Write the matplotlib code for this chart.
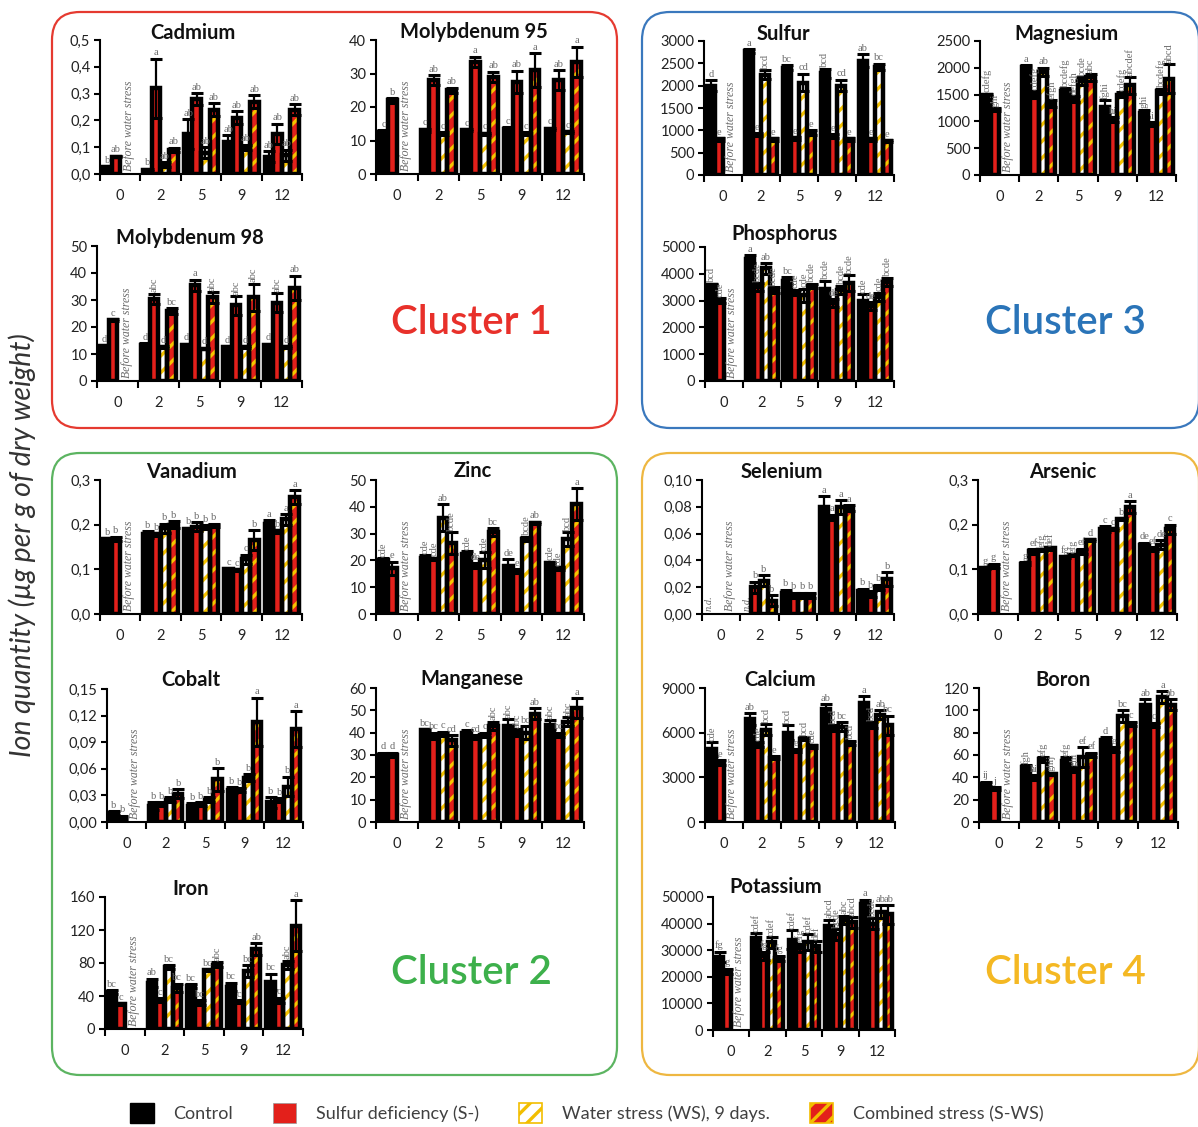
import numpy as np
import matplotlib.pyplot as plt
from matplotlib.patches import FancyBboxPatch, Patch
from matplotlib.ticker import FixedLocator, FuncFormatter, NullFormatter

nan = np.nan

days = ["0", "2", "5", "9", "12"]
treatments = ["Control", "Sulfur deficiency (S-)", "Water stress (WS), 9 days.", "Combined stress (S-WS)"]

# rows: Control, S-, WS, S-WS  /  columns: days 0, 2, 5, 9, 12
cadmium_mean = [[0.025, 0.015, 0.15, 0.12, 0.065], [0.065, 0.32, 0.28, 0.21, 0.15],
                [nan, 0.035, 0.08, 0.10, 0.07], [nan, 0.09, 0.24, 0.27, 0.24]]
cadmium_err = [[0.005, 0.005, 0.055, 0.025, 0.02], [0.003, 0.11, 0.022, 0.025, 0.038],
               [nan, 0.01, 0.02, 0.01, 0.02], [nan, 0.008, 0.025, 0.025, 0.02]]
cadmium_sig = [["b", "b", "ab", "ab", "ab"], ["ab", "a", "ab", "ab", "ab"],
               ["", "ab", "ab", "ab", "ab"], ["", "ab", "ab", "ab", "ab"]]

mo95_mean = [[12.5, 13, 13, 13.5, 13.5], [22, 28, 33.5, 27.5, 28],
             [nan, 12, 12, 12, 12.5], [nan, 25, 29, 31, 33.5]]
mo95_err = [[0.5, 0.5, 0.3, 0.5, 0.3], [0.7, 1.5, 1.5, 3.3, 3],
            [nan, 0.4, 0.3, 0.5, 0.3], [nan, 0.8, 1.5, 5, 4.5]]
mo95_sig = [["c", "c", "c", "c", "c"], ["b", "ab", "a", "ab", "ab"],
            ["", "c", "c", "c", "c"], ["", "ab", "ab", "a", "a"]]

mo98_mean = [[13, 13.5, 13.5, 12.5, 13.5], [22.5, 30.5, 35.5, 28, 29],
             [nan, 12.5, 12, 12.5, 12.5], [nan, 26, 31, 31, 34.5]]
mo98_err = [[0.3, 0.5, 0.3, 0.5, 0.3], [0.4, 1.8, 2, 3.5, 3.5],
            [nan, 0.3, 0.3, 0.3, 0.3], [nan, 1, 2, 5, 4.5]]
mo98_sig = [["d", "d", "d", "d", "d"], ["c", "abc", "a", "abc", "abc"],
            ["", "d", "d", "d", "d"], ["", "bc", "abc", "abc", "ab"]]

sulfur_mean = [[2000, 2780, 2400, 2280, 2560], [800, 900, 820, 870, 800],
               [nan, 2250, 2070, 2000, 2420], [nan, 800, 950, 800, 760]]
sulfur_err = [[120, 40, 60, 100, 150], [30, 30, 30, 50, 30],
              [nan, 100, 200, 130, 70], [nan, 30, 50, 30, 20]]
sulfur_sig = [["d", "a", "bc", "bcd", "ab"], ["e", "e", "e", "e", "e"],
              ["", "bcd", "cd", "cd", "bc"], ["", "e", "e", "e", "e"]]

magnesium_mean = [[1500, 2020, 1560, 1270, 1150], [1220, 1500, 1420, 1030, 950],
                  [nan, 1920, 1750, 1500, 1560], [nan, 1330, 1820, 1670, 1800]]
magnesium_err = [[20, 30, 60, 130, 70], [30, 60, 50, 50, 40],
                 [nan, 80, 80, 50, 50], [nan, 60, 60, 150, 270]]
magnesium_sig = [["cdefg", "a", "bcdefg", "fghi", "ghi"], ["ghi", "cdefg", "defgh", "hi", "i"],
                 ["", "ab", "bcde", "cdefg", "bcdefg"], ["", "efgh", "abc", "abcdef", "abcd"]]

phosphorus_mean = [[3600, 4550, 3750, 3450, 3000], [3000, 3500, 3300, 2900, 2800],
                   [nan, 4200, 3200, 3400, 3150], [nan, 3400, 3550, 3650, 3700]]
phosphorus_err = [[30, 150, 120, 300, 250], [100, 150, 100, 150, 150],
                  [nan, 200, 250, 150, 150], [nan, 100, 80, 300, 150]]
phosphorus_sig = [["bcd", "a", "bc", "bcde", "cde"], ["cde", "bcde", "cde", "de", "de"],
                  ["", "ab", "cde", "bcde", "cde"], ["", "bcde", "bcde", "bcde", "bcde"]]

vanadium_mean = [[0.168, 0.178, 0.19, 0.1, 0.202], [0.168, 0.178, 0.195, 0.098, 0.185],
                 [nan, 0.192, 0.195, 0.123, 0.212], [nan, 0.2, 0.198, 0.165, 0.262]]
vanadium_err = [[0.002, 0.008, 0.003, 0.002, 0.008], [0.005, 0.003, 0.01, 0.002, 0.003],
                [nan, 0.01, 0.004, 0.01, 0.012], [nan, 0.008, 0.004, 0.022, 0.015]]
vanadium_sig = [["b", "b", "b", "c", "a"], ["b", "b", "b", "c", "b"],
                ["", "b", "b", "c", "a"], ["", "b", "b", "b", "a"]]

zinc_mean = [[20, 21, 22.5, 18, 19], [17, 20.5, 18, 16, 17],
             [nan, 36, 20, 28, 28], [nan, 26.5, 30.5, 34, 41]]
zinc_err = [[0.8, 1, 1, 2.5, 0.5], [2.5, 0.5, 1, 0.8, 0.5],
            [nan, 5, 3, 0.8, 2.5], [nan, 4, 1.5, 0.5, 6]]
zinc_sig = [["cde", "cde", "cde", "de", "cde"], ["e", "cde", "de", "e", "cde"],
            ["", "ab", "cde", "bcde", "bcd"], ["", "bcde", "bc", "ab", "a"]]

cobalt_mean = [[0.01, 0.018, 0.018, 0.036, 0.022], [0.005, 0.02, 0.02, 0.036, 0.025],
               [nan, 0.025, 0.025, 0.05, 0.04], [nan, 0.032, 0.048, 0.113, 0.105]]
cobalt_err = [[0.002, 0.004, 0.003, 0.003, 0.006], [0.002, 0.002, 0.002, 0.002, 0.002],
              [nan, 0.003, 0.003, 0.004, 0.011], [nan, 0.005, 0.013, 0.027, 0.02]]
cobalt_sig = [["b", "b", "b", "b", "b"], ["b", "b", "b", "b", "b"],
              ["", "b", "b", "b", "b"], ["", "b", "b", "a", "a"]]

manganese_mean = [[30, 41, 40, 43, 43.5], [30, 38.5, 38, 40, 39],
                  [nan, 39.5, 39, 40, 45], [nan, 36.5, 43, 48.5, 51]]
manganese_err = [[1, 0.5, 1, 3, 2], [1, 1.5, 1, 1.5, 1],
                 [nan, 1, 1, 3, 2], [nan, 2.5, 2, 2.5, 4.5]]
manganese_sig = [["d", "bc", "c", "abc", "abc"], ["d", "bc", "cd", "abc", "bc"],
                 ["", "c", "c", "bc", "abc"], ["", "cd", "abc", "ab", "a"]]

iron_mean = [[45, 56, 52, 51, 57], [30, 35, 32, 33, 35],
             [nan, 75, 71, 70, 78], [nan, 50, 78, 97, 125]]
iron_err = [[2, 5, 2, 5, 10], [1, 2.5, 3, 2, 3],
            [nan, 2, 1, 7, 5], [nan, 5, 3, 7, 31]]
iron_sig = [["bc", "ab", "bc", "bc", "bc"], ["c", "c", "bc", "c", "c"],
            ["", "bc", "bc", "bc", "abc"], ["", "bc", "abc", "ab", "a"]]

selenium_mean = [[nan, nan, 0.016, 0.08, 0.017], [nan, 0.02, 0.014, 0.072, 0.015],
                 [nan, 0.025, 0.014, 0.08, 0.02], [nan, 0.01, 0.014, 0.079, 0.026]]
selenium_err = [[nan, nan, 0.002, 0.008, 0.002], [nan, 0.004, 0.002, 0.002, 0.002],
                [nan, 0.004, 0.002, 0.005, 0.002], [nan, 0.004, 0.002, 0.002, 0.005]]
selenium_sig = [["n.d.", "n.d.", "b", "a", "b"], ["", "b", "b", "a", "b"],
                ["", "b", "b", "a", "b"], ["", "b", "b", "a", "b"]]

arsenic_mean = [[0.102, 0.113, 0.128, 0.19, 0.155], [0.108, 0.14, 0.132, 0.19, 0.145],
                [nan, 0.143, 0.14, 0.213, 0.155], [nan, 0.147, 0.165, 0.24, 0.19]]
arsenic_err = [[0.002, 0.003, 0.002, 0.006, 0.005], [0.005, 0.005, 0.002, 0.002, 0.004],
               [nan, 0.003, 0.006, 0.002, 0.01], [nan, 0.003, 0.002, 0.013, 0.01]]
arsenic_sig = [["g", "g", "fg", "c", "de"], ["g", "ef", "efg", "c", "ef"],
               ["", "efg", "ef", "b", "de"], ["", "def", "d", "a", "c"]]

calcium_mean = [[4900, 6900, 6000, 7600, 8000], [4000, 5200, 4800, 6300, 6500],
                [nan, 6200, 5600, 6400, 7200], [nan, 4300, 5100, 5300, 6500]]
calcium_err = [[450, 400, 500, 300, 450], [150, 150, 100, 200, 200],
               [nan, 350, 100, 300, 300], [nan, 100, 100, 150, 650]]
calcium_sig = [["cde", "ab", "bcd", "ab", "a"], ["e", "cde", "e", "bcd", "bcd"],
               ["", "bcd", "bcd", "bc", "ab"], ["", "e", "cde", "bcd", "bc"]]

boron_mean = [[34, 49, 55, 73, 105], [30, 40, 47, 65, 87],
              [nan, 56, 58, 95, 112], [nan, 43, 60, 88, 105]]
boron_err = [[2, 2, 3, 3, 5], [1, 2, 2, 2, 2],
             [nan, 2, 9, 5, 5], [nan, 1, 2, 2, 5]]
boron_sig = [["ij", "fgh", "efg", "d", "ab"], ["j", "hi", "ghi", "e", "c"],
             ["", "efg", "ef", "bc", "a"], ["", "ghij", "ef", "c", "ab"]]

potassium_mean = [[27500, 34500, 34000, 39000, 47500], [22000, 28000, 31000, 36000, 40000],
                  [nan, 33000, 33000, 41500, 44500], [nan, 27000, 31500, 40500, 43500]]
potassium_err = [[2000, 2000, 3500, 2500, 1500], [1000, 1500, 1500, 2000, 2000],
                 [nan, 2000, 3000, 1500, 2500], [nan, 1000, 2000, 2000, 3500]]
potassium_sig = [["fg", "cdef", "cdef", "abcd", "a"], ["g", "fg", "efg", "bcde", "bcde"],
                 ["", "cdef", "cdef", "abc", "ab"], ["", "fg", "def", "abcd", "ab"]]

W, H = 1198, 1127
fig = plt.figure(figsize=(W / 100, H / 100), dpi=100)
plt.rcParams['hatch.linewidth'] = 2.4

SANS = ['Lato', 'DejaVu Sans']
SERIF = ['Liberation Serif', 'DejaVu Serif']
LETTER_GREY = '#6a6a6a'

# face colour, hatch
styles = [('black', None), ('#e3201b', None), ('white', '//'), ('#e3201b', '//')]
offsets = [-0.32, -0.11, 0.11, 0.32]
bar_w = 0.21
edge_lw = 3.2

# background layer in pixel coordinates for the cluster frames
bg = fig.add_axes([0, 0, 1, 1], zorder=-10)
bg.set_xlim(0, W)
bg.set_ylim(H, 0)
bg.axis('off')

clusters = [
    ("Cluster 1", '#e53a30', '#e8302a', (52, 12, 617, 428), (471, 322)),
    ("Cluster 3", '#3a78bd', '#2a74b8', (642, 12, 1199, 428), (1065, 322)),
    ("Cluster 2", '#5cb461', '#3db04b', (52, 453, 617, 1075), (471, 972)),
    ("Cluster 4", '#eeb741', '#f4b823', (642, 453, 1199, 1075), (1065, 972)),
]
for name, edge, tcol, (x0, y0, x1, y1), (tx, ty) in clusters:
    bg.add_patch(FancyBboxPatch((x0, y0), x1 - x0, y1 - y0,
                                boxstyle="round,pad=0,rounding_size=28",
                                fill=False, edgecolor=edge, linewidth=1.6))
    bg.text(tx, ty, name, color=tcol, fontsize=29, family=SANS,
            fontweight='semibold', ha='center', va='center')

bg.text(22, 545, "Ion quantity (µg per g of dry weight)", rotation=90,
        ha='center', va='center', fontsize=20.5, style='italic', color='#333333', family=SANS)


def comma_fmt(decimals):
    return FuncFormatter(lambda v, p: f"{v:.{decimals}f}".replace('.', ','))


def draw_panel(title, mean, err, sig, ymax, step, decimals, box, title_xy):
    x0, ytop, x1, ybot = box
    ax = fig.add_axes([x0 / W, 1 - ybot / H, (x1 - x0) / W, (ybot - ytop) / H])
    x = np.arange(len(days))
    for k in range(4):
        m = np.array(mean[k], dtype=float)
        e = np.array(err[k], dtype=float)
        xs = x + offsets[k]
        ok = ~np.isnan(m)
        face, hatch = styles[k]
        if hatch:
            ax.bar(xs[ok], m[ok], bar_w, color=face, hatch=hatch,
                   edgecolor='#f7c400', linewidth=0, zorder=2)
            ax.bar(xs[ok], m[ok], bar_w, fill=False, edgecolor='black',
                   linewidth=edge_lw, zorder=3)
        else:
            ax.bar(xs[ok], m[ok], bar_w, color=face, edgecolor='black',
                   linewidth=edge_lw, zorder=3)
        ax.errorbar(xs[ok], m[ok], yerr=e[ok], fmt='none', ecolor='black',
                    elinewidth=1.6, capsize=4, capthick=2.2, zorder=4)
        for i in range(len(days)):
            s = sig[k][i]
            if not s:
                continue
            if np.isnan(m[i]):
                ax.annotate(s, (xs[i], 0), xytext=(0, 2), textcoords='offset points',
                            rotation=90, ha='center', va='bottom', fontsize=7.5,
                            style='italic', color=LETTER_GREY, family=SERIF)
                continue
            top = m[i] + (0 if np.isnan(e[i]) else e[i])
            ax.annotate(s, (xs[i], top), xytext=(0, 1), textcoords='offset points',
                        rotation=90 if len(s) >= 3 else 0, ha='center', va='bottom',
                        fontsize=7.5, color=LETTER_GREY, family=SERIF, zorder=5)
    ax.annotate("Before water stress", (0.22, 0), xytext=(0, 2), textcoords='offset points',
                rotation=90, ha='center', va='bottom', fontsize=8.5, style='italic',
                color=LETTER_GREY, family=SERIF)

    ax.set_xlim(-0.5, len(days) - 0.5)
    ax.set_ylim(0, ymax)
    ax.yaxis.set_major_locator(FixedLocator(np.arange(0, ymax + step / 2, step)))
    ax.yaxis.set_major_formatter(comma_fmt(decimals))
    ax.xaxis.set_major_locator(FixedLocator(np.arange(-0.5, len(days), 1.0)))
    ax.xaxis.set_major_formatter(NullFormatter())
    ax.xaxis.set_minor_locator(FixedLocator(x))
    ax.xaxis.set_minor_formatter(FuncFormatter(lambda v, p: days[int(round(v))]))
    ax.tick_params(axis='x', which='major', direction='out', length=5, width=1.5)
    ax.tick_params(axis='x', which='minor', length=0, pad=11, labelsize=10.5, labelcolor='#222222')
    ax.tick_params(axis='y', direction='out', length=4, width=1.5, labelsize=10.5,
                   labelcolor='#222222', pad=3)
    for lab in ax.get_xticklabels(minor=True) + ax.get_yticklabels():
        lab.set_family(SANS)
    for sp in ['top', 'right']:
        ax.spines[sp].set_visible(False)
    for sp in ['left', 'bottom']:
        ax.spines[sp].set_linewidth(1.5)
    ax.patch.set_alpha(0)
    fig.text(title_xy[0] / W, 1 - title_xy[1] / H, title, ha='center', va='center',
             fontsize=14.5, fontweight='bold', family=SANS, color='#111111')


panels = [
    ("Cadmium", cadmium_mean, cadmium_err, cadmium_sig, 0.5, 0.1, 1, (100, 40, 302, 174), (193, 33)),
    ("Molybdenum 95", mo95_mean, mo95_err, mo95_sig, 40, 10, 0, (376, 40, 584, 174), (474, 32)),
    ("Molybdenum 98", mo98_mean, mo98_err, mo98_sig, 50, 10, 0, (97, 246, 302, 381), (190, 238)),
    ("Sulfur", sulfur_mean, sulfur_err, sulfur_sig, 3000, 500, 0, (704, 41, 894, 175), (783, 34)),
    ("Magnesium", magnesium_mean, magnesium_err, magnesium_sig, 2500, 500, 0, (980, 41, 1176, 175), (1066, 34)),
    ("Phosphorus", phosphorus_mean, phosphorus_err, phosphorus_sig, 5000, 1000, 0, (705, 247, 894, 381), (784, 234)),
    ("Vanadium", vanadium_mean, vanadium_err, vanadium_sig, 0.3, 0.1, 1, (100, 480, 302, 614), (191, 472)),
    ("Zinc", zinc_mean, zinc_err, zinc_sig, 50, 10, 0, (376, 480, 584, 614), (473, 471)),
    ("Cobalt", cobalt_mean, cobalt_err, cobalt_sig, 0.15, 0.03, 2, (107, 689, 303, 822), (191, 680)),
    ("Manganese", manganese_mean, manganese_err, manganese_sig, 60, 10, 0, (376, 688, 584, 822), (472, 679)),
    ("Iron", iron_mean, iron_err, iron_sig, 160, 40, 0, (105, 897, 303, 1029), (191, 889)),
    ("Selenium", selenium_mean, selenium_err, selenium_sig, 0.10, 0.02, 2, (702, 480, 894, 614), (782, 472)),
    ("Arsenic", arsenic_mean, arsenic_err, arsenic_sig, 0.3, 0.1, 1, (978, 480, 1177, 614), (1063, 472)),
    ("Calcium", calcium_mean, calcium_err, calcium_sig, 9000, 3000, 0, (705, 688, 895, 822), (780, 680)),
    ("Boron", boron_mean, boron_err, boron_sig, 120, 20, 0, (979, 688, 1178, 822), (1063, 680)),
    ("Potassium", potassium_mean, potassium_err, potassium_sig, 50000, 10000, 0, (713, 897, 895, 1030), (776, 887)),
]

for p in panels:
    draw_panel(*p)

handles = [Patch(facecolor='black', edgecolor='black'),
           Patch(facecolor='#e3201b', edgecolor='#999999', linewidth=0.5),
           Patch(facecolor='white', edgecolor='#f2be00', hatch='//', linewidth=1.2),
           Patch(facecolor='#e3201b', edgecolor='#f2be00', hatch='//', linewidth=1.2)]
leg = fig.legend(handles, treatments, loc='center', bbox_to_anchor=(0.49, 1 - 1113 / H),
                 ncol=4, frameon=False, handlelength=1.3, handleheight=1.3,
                 columnspacing=2.2, handletextpad=1.1, prop={'family': SANS, 'size': 13})
for t in leg.get_texts():
    t.set_color('#404040')

fig.savefig("out.png", dpi=100)
